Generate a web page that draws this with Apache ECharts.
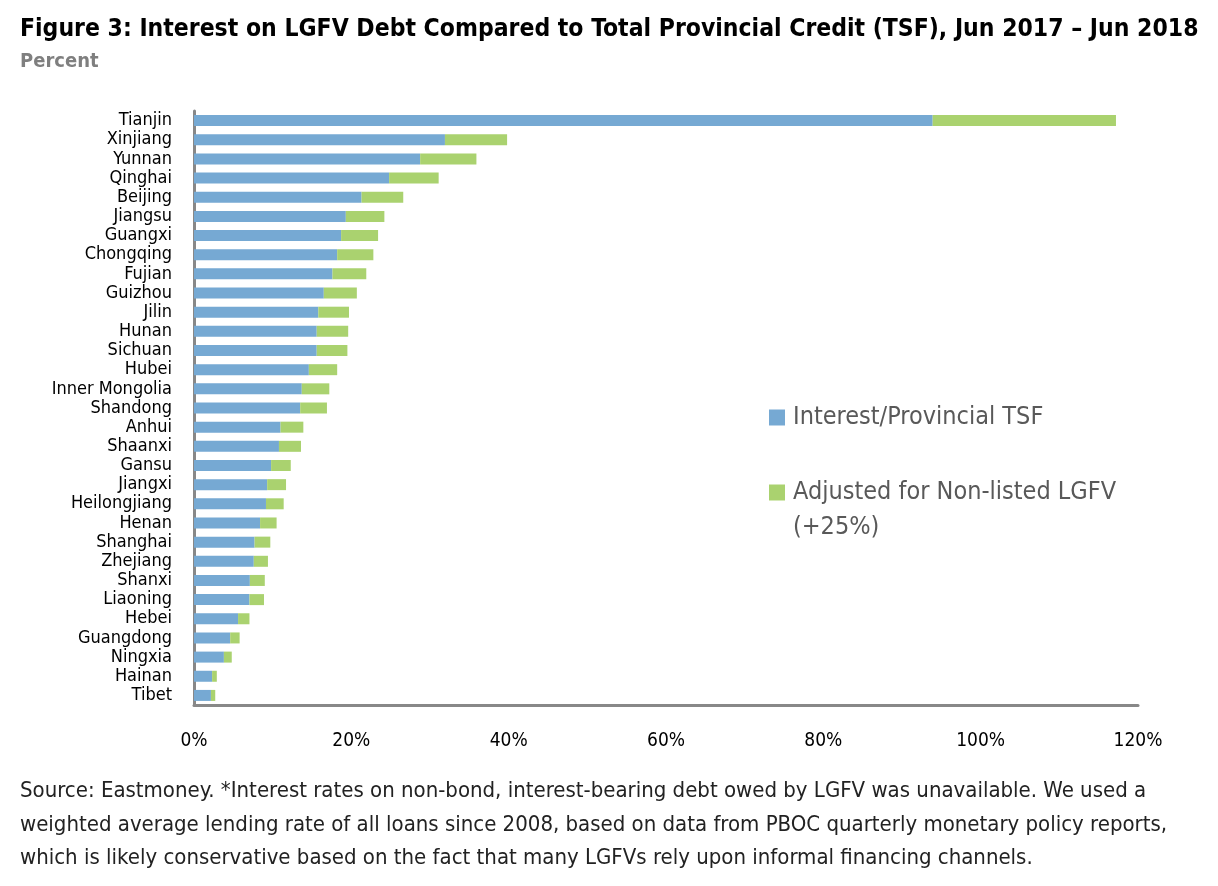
<!DOCTYPE html>
<html><head><meta charset="utf-8">
<script src="https://cdn.jsdelivr.net/npm/echarts@6/dist/echarts.min.js"></script>
<style>html,body{margin:0;padding:0;background:#fff}#c{width:1218px;height:886px}</style>
</head><body><div id="c"></div>
<script>
const categories = ['Tianjin','Xinjiang','Yunnan','Qinghai','Beijing','Jiangsu','Guangxi','Chongqing','Fujian','Guizhou','Jilin','Hunan','Sichuan','Hubei','Inner Mongolia','Shandong','Anhui','Shaanxi','Gansu','Jiangxi','Heilongjiang','Henan','Shanghai','Zhejiang','Shanxi','Liaoning','Hebei','Guangdong','Ningxia','Hainan','Tibet'];
const interestTSF = [93.9,31.9,28.75,24.8,21.3,19.3,18.7,18.2,17.6,16.5,15.8,15.6,15.6,14.6,13.7,13.5,11.0,10.8,9.8,9.3,9.15,8.4,7.7,7.6,7.1,7.05,5.6,4.6,3.8,2.3,2.15];
const adjustedNonListed = [23.3,7.9,7.15,6.3,5.3,4.9,4.7,4.6,4.3,4.2,3.9,4.0,3.9,3.6,3.5,3.4,2.9,2.8,2.5,2.4,2.25,2.1,2.0,1.8,1.9,1.85,1.45,1.2,1.0,0.6,0.55];
const xTicks = [0,20,40,60,80,100,120];
const seriesNames = ['Interest/Provincial TSF','Adjusted for Non-listed LGFV (+25%)'];

const COND = "'Liberation Sans Narrow','DejaVu Sans Condensed','Roboto Condensed','Arial Narrow',sans-serif";
const chart = echarts.init(document.getElementById('c'), null, {renderer:'canvas'});
chart.setOption({
  animation:false,
  backgroundColor:'#fff',
  title:[{
    text:'Figure 3: Interest on LGFV Debt Compared to Total Provincial Credit (TSF), Jun 2017 \u2013 Jun 2018',
    subtext:'Percent',
    left:15, top:12, itemGap:10,
    textStyle:{fontFamily:COND,fontWeight:'bold',fontSize:24.5,color:'#000'},
    subtextStyle:{fontFamily:COND,fontWeight:'bold',fontSize:20,color:'#7f7f7f'}
  },{
    text:'Source: Eastmoney. *Interest rates on non-bond, interest-bearing debt owed by LGFV was unavailable. We used a\nweighted average lending rate of all loans since 2008, based on data from PBOC quarterly monetary policy reports,\nwhich is likely conservative based on the fact that many LGFVs rely upon informal financing channels.',
    left:15, top:770,
    textStyle:{fontFamily:COND,fontWeight:'normal',fontSize:22,lineHeight:33.5,color:'#222'}
  }],
  legend:{
    orient:'vertical', left:769, top:400, padding:0, itemWidth:16, itemHeight:16, itemGap:5,
    icon:'rect',
    textStyle:{fontFamily:COND,fontSize:25,lineHeight:35,color:'#595959',padding:[0,0,0,3]},
    data:seriesNames,
    formatter:function(name){
      return name === seriesNames[1] ? '\nAdjusted for Non-listed LGFV\n(+25%)' : name;
    }
  },
  grid:{left:194,right:80,top:111,height:594,containLabel:false},
  xAxis:{
    type:'value', min:xTicks[0], max:xTicks[xTicks.length-1], interval:20,
    axisLine:{show:true,lineStyle:{color:'#888',width:3}},
    axisTick:{show:false}, splitLine:{show:false},
    axisLabel:{formatter:'{value}%',fontFamily:COND,fontSize:19,color:'#000',margin:27}
  },
  yAxis:{
    type:'category', data:categories, inverse:true,
    axisLine:{show:true,lineStyle:{color:'#888',width:3}},
    axisTick:{show:false},
    axisLabel:{interval:0,fontFamily:COND,fontSize:18,color:'#000',margin:22}
  },
  series:[
    {name:seriesNames[0],type:'bar',stack:'t',data:interestTSF,barWidth:11,itemStyle:{color:'#76A9D3'}},
    {name:seriesNames[1],type:'bar',stack:'t',data:adjustedNonListed,barWidth:11,itemStyle:{color:'#AAD26F'}}
  ]
});
</script></body></html>
